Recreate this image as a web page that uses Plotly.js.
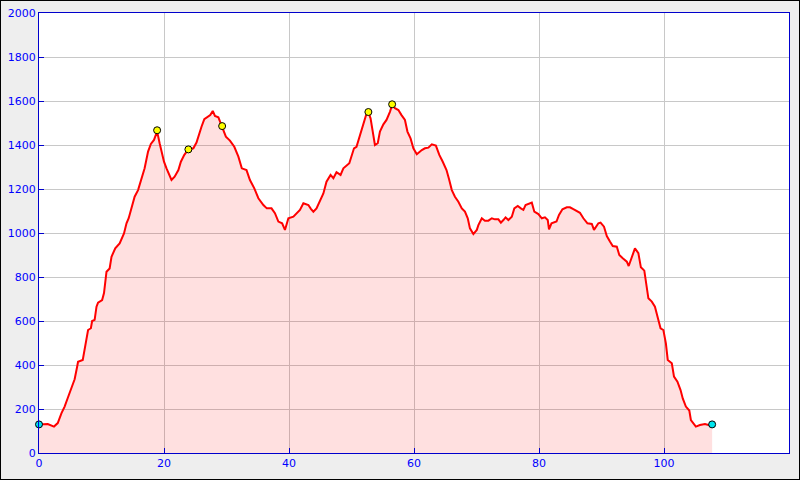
<!DOCTYPE html>
<html>
<head>
<meta charset="utf-8">
<script src="https://cdn.plot.ly/plotly-3.0.1.min.js"></script>
<style>
html,body{margin:0;padding:0;background:#eeeeee;}
#chart{width:800px;height:480px;box-sizing:border-box;border:1px solid #000;}
</style>
</head>
<body>
<div id="chart"></div>
<script>
var dist = [0,1.4,2.4,3.0,3.6,4.1,4.6,5.2,5.7,6.1,6.25,7.0,7.3,7.6,7.85,8.3,8.5,8.9,9.2,9.45,10.1,10.4,10.8,11.3,11.6,12.2,12.9,13.6,14.0,14.35,14.8,15.3,15.85,16.4,16.9,17.45,17.9,18.4,18.9,19.3,19.7,20.0,20.4,21.2,21.7,22.3,22.7,23.25,23.9,24.7,25.2,25.6,26.0,26.45,27.0,27.4,27.8,28.15,28.7,29.3,29.9,30.55,31.25,31.9,32.45,33.2,33.75,34.45,35.1,35.9,36.45,37.2,37.75,38.3,38.9,39.35,39.9,40.7,41.2,41.75,42.3,43.1,43.5,43.9,44.4,44.95,45.5,46.0,46.65,47.1,47.6,48.25,48.7,49.65,50.0,50.4,50.8,51.25,51.8,52.3,52.7,53.05,53.4,53.75,54.2,54.55,55.1,55.6,56.15,56.5,56.95,57.5,58.0,58.55,58.95,59.45,59.9,60.45,61.25,61.75,62.3,62.85,63.5,64.05,64.6,65.2,65.6,66.05,66.55,67.1,67.65,68.15,68.6,68.95,69.5,70.05,70.3,70.85,71.35,71.9,72.45,72.95,73.5,73.9,74.3,74.65,75.1,75.65,76.05,76.6,77.1,77.5,77.85,78.55,78.85,79.25,79.9,80.45,80.95,81.4,81.6,82.0,82.8,83.2,83.75,84.45,84.95,85.5,86.05,86.55,87.1,87.75,88.45,88.8,89.5,89.85,90.4,90.85,91.35,91.8,92.45,92.85,93.4,94.05,94.35,94.85,95.35,95.9,96.3,96.85,97.25,97.5,98.05,98.55,99.1,99.45,99.9,100.3,100.6,101.25,101.6,102.15,102.65,103.0,103.5,104.05,104.3,105.1,105.75,106.55,107.1,107.7];
var elev = [130,132,120,136,181,211,250,302,335,392,415,423,468,529,559,567,600,605,665,683,695,727,824,839,892,930,953,998,1044,1067,1112,1165,1195,1249,1294,1370,1405,1423,1462,1408,1362,1324,1294,1241,1256,1286,1324,1355,1380,1385,1411,1453,1483,1517,1526,1536,1555,1532,1526,1486,1438,1420,1392,1347,1294,1286,1241,1203,1158,1127,1112,1112,1090,1052,1044,1014,1067,1074,1090,1105,1135,1127,1110,1097,1112,1150,1180,1233,1264,1249,1276,1264,1294,1317,1355,1385,1392,1438,1491,1533,1548,1521,1461,1400,1408,1461,1494,1514,1551,1582,1567,1559,1536,1514,1461,1430,1385,1358,1377,1385,1388,1403,1397,1355,1324,1286,1245,1195,1165,1142,1112,1097,1067,1021,995,1014,1036,1067,1056,1056,1067,1062,1062,1047,1059,1071,1059,1074,1112,1123,1112,1105,1127,1135,1138,1097,1086,1067,1071,1059,1017,1044,1052,1082,1108,1117,1117,1108,1100,1092,1067,1044,1041,1014,1044,1047,1029,986,961,941,938,900,885,870,850,889,930,908,844,829,756,703,688,665,605,567,559,498,423,408,347,324,286,248,211,193,150,120,127,132,127,130];
var peakDist = [18.9, 23.9, 29.3, 52.7, 56.5];
var peakElev = [1467, 1380, 1486, 1550, 1585];
var endDist = [0, 107.7];
var endElev = [130, 130];
var xTicks = [0, 20, 40, 60, 80, 100, 120];
var yTicks = [0, 200, 400, 600, 800, 1000, 1200, 1400, 1600, 1800, 2000];

var axisBlue = '#0000cc';
var tickFont = {family: 'DejaVu Sans', size: 11, color: '#0000ff'};

var traces = [
  {x: dist, y: elev, type: 'scatter', mode: 'lines', fill: 'tozeroy',
   fillcolor: 'rgba(255,0,0,0.12)', line: {color: '#ff0000', width: 2}, hoverinfo: 'skip'},
  {x: peakDist, y: peakElev, type: 'scatter', mode: 'markers',
   marker: {color: '#ffff00', size: 7, line: {color: '#000000', width: 1}}, hoverinfo: 'skip'},
  {x: endDist, y: endElev, type: 'scatter', mode: 'markers', cliponaxis: false,
   marker: {color: '#00e5ee', size: 7, line: {color: '#000000', width: 1}}, hoverinfo: 'skip'}
];

var layout = {
  width: 798, height: 478,
  margin: {l: 38, r: 10, t: 12, b: 26, pad: 0},
  paper_bgcolor: '#eeeeee', plot_bgcolor: '#ffffff',
  showlegend: false,
  xaxis: {range: [0, 120], tickvals: xTicks, ticktext: xTicks.map(String),
    showgrid: true, gridcolor: '#c8c8c8', gridwidth: 1, zeroline: false,
    showline: true, linecolor: axisBlue, linewidth: 1, mirror: true,
    ticks: 'inside', ticklen: 5, tickcolor: axisBlue, tickfont: tickFont, fixedrange: true},
  yaxis: {range: [0, 2000], tickvals: yTicks, ticktext: yTicks.map(String),
    showgrid: true, gridcolor: '#c8c8c8', gridwidth: 1, zeroline: false,
    showline: true, linecolor: axisBlue, linewidth: 1, mirror: true,
    ticks: 'inside', ticklen: 5, tickcolor: axisBlue, tickfont: tickFont, fixedrange: true}
};

Plotly.newPlot('chart', traces, layout, {displayModeBar: false, staticPlot: true});
</script>
</body>
</html>
